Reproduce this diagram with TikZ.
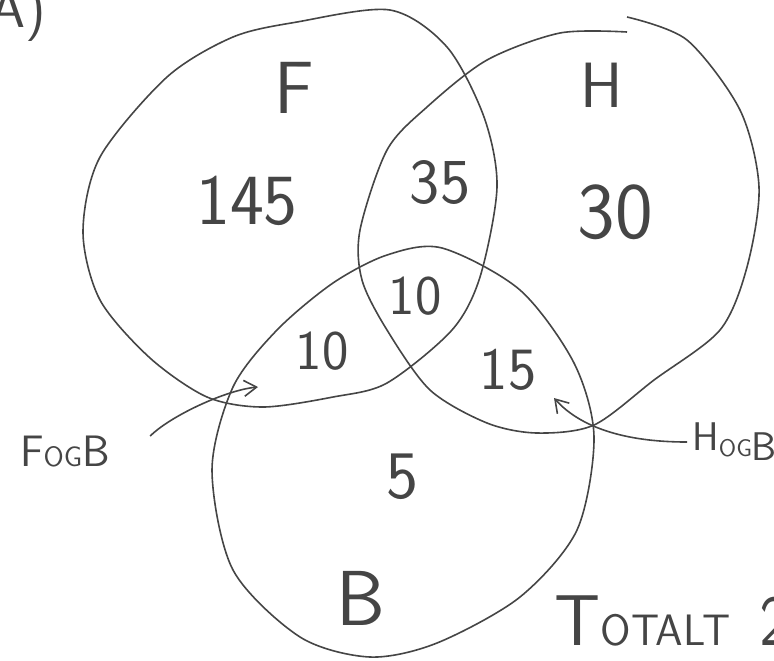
\documentclass[tikz,border=0pt]{standalone}
\usepackage{fontspec}
\usetikzlibrary{arrows.meta, positioning}
\definecolor{ink}{HTML}{454545}
\newcommand{\smc}[2]{{\fontsize{#1}{#1}\selectfont #2}}

\begin{document}
\begin{tikzpicture}[x=0.5pt, y=-0.5pt,
      setline/.style={draw=ink, line width=0.8pt},
      lbl/.style={text=ink, inner sep=0pt, font=\sffamily\fontsize{#1}{#1}\selectfont},
      num/.style={text=ink, inner sep=0pt, font=\sffamily\fontsize{#1}{#1}\selectfont},
      note/.style={text=ink, inner sep=0pt, font=\sffamily\fontsize{#1}{#1}\selectfont},
      arr/.style={-{Straight Barb[length=2.2mm, width=2.8mm]}, line width=0.8pt, ink}]
    \useasboundingbox (0,0) rectangle (774,660);
    % the three sets, drawn by hand
    \draw[setline] plot[smooth cycle] coordinates {(390,10) (447,47) (484,117) (497,187)
      (480,277) (452,330) (387,383) (333,397) (263,407) (207,397) (150,358) (100,300)
      (83,232) (100,157) (167,77) (233,37) (297,22)};
    \draw[setline] plot[smooth] coordinates {(627,17) (687,40) (740,110) (759,187) (747,267)
      (720,330) (654,380) (594,425) (537,433) (487,423) (430,390) (387,330) (362,280)
      (360,230) (387,150) (427,107) (487,60) (560,33) (627,32)};
    \draw[setline] plot[smooth cycle] coordinates {(442,248) (520,290) (574,363) (594,437)
      (577,530) (520,597) (437,643) (370,657) (300,637) (233,570) (212,470) (233,387)
      (277,330) (333,283) (387,255)};
    \node[lbl=37] (lF) at (294,88) {F};
    \node[lbl=32] (lH) at (602,85) {H};
    \node[lbl=39] (lB) at (361,598) {B};
    % counts
    \node[num=36] (n145) at (247,201) {145};
    \node[num=32] (n35) at (440,182) {35};
    \node[num=40] (n30) at (615,212) {30};
    \node[num=28] (n10c) at (415,296) {10};
    \node[num=28] (n10l) at (322,351) {10};
    \node[num=30] (n15) at (508,370) {15};
    \node[num=34] (n5) at (402,477) {5};
    % notes
    \node[note=28, anchor=base east] (task) at (46,27) {A)};
    \node[note=22] (FogB) at (65,452) {F\smc{14}{OG}B};
    \node[note=20, anchor=west] (HogB) at (692,442) {H\smc{12}{\raisebox{-3pt}{OG}}\raisebox{-5pt}{B}};
    \node[note=36, anchor=base west] (tot) at (554,645) {T\smc{22}{OTALT}\hspace{0.4em}2};
    \coordinate (fbtip) at (258,387);
    \coordinate (hbtip) at (554,398);
    \draw[arr] ([xshift=20pt]FogB.north east) .. controls +(20,-20) and +(-32,3) .. (fbtip);
    \draw[arr] ([xshift=-2.5pt]HogB.west) .. controls +(-65,0) and +(25,28) .. (hbtip);
  \end{tikzpicture}
\end{document}
